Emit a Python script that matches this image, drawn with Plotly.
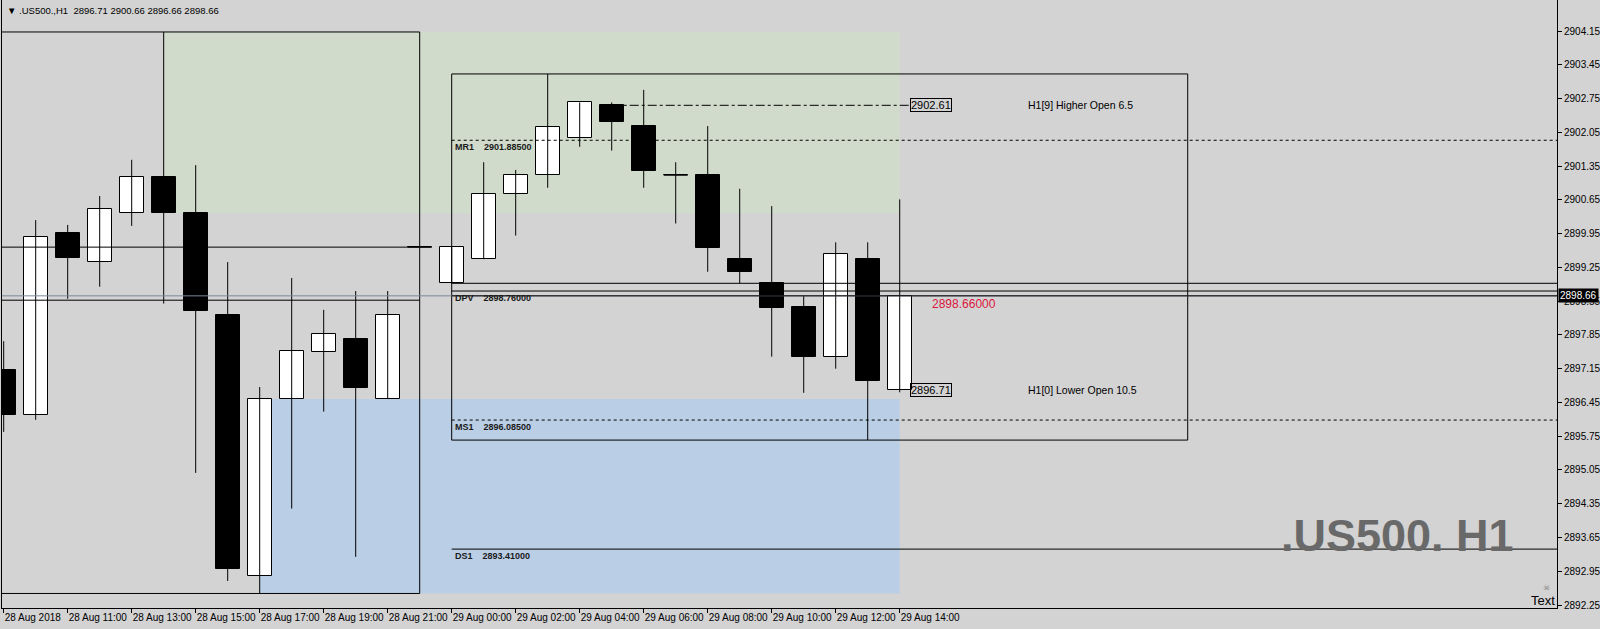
import plotly.graph_objects as go

# ---------------- data ----------------
bar_index = list(range(29))
opens  = [2897.12, 2896.20, 2899.96, 2899.36, 2900.37, 2901.12, 2900.38, 2898.26, 2892.85, 2896.52,
          2897.50, 2897.77, 2896.52, 2899.67, 2898.92, 2899.42, 2900.77, 2901.16, 2901.93, 2902.61,
          2902.18, 2901.16, 2901.16, 2899.42, 2898.92, 2898.43, 2897.40, 2899.42, 2896.71]
highs  = [2897.72, 2900.23, 2900.13, 2900.73, 2901.48, 2904.13, 2901.37, 2899.36, 2896.77, 2899.03,
          2898.37, 2898.76, 2898.76, 2899.67, 2899.67, 2901.43, 2901.27, 2903.26, 2902.67, 2902.67,
          2902.93, 2901.43, 2902.18, 2900.88, 2900.52, 2898.66, 2899.77, 2899.77, 2900.66]
lows   = [2895.84, 2896.09, 2898.60, 2898.85, 2900.11, 2898.50, 2894.99, 2892.75, 2892.49, 2894.25,
          2896.26, 2893.25, 2896.52, 2899.67, 2898.92, 2899.42, 2899.91, 2900.90, 2901.75, 2901.67,
          2900.90, 2900.16, 2899.16, 2898.92, 2897.40, 2896.65, 2897.15, 2895.67, 2896.66]
closes = [2896.20, 2899.87, 2899.45, 2900.47, 2901.12, 2900.37, 2898.35, 2893.00, 2896.52, 2897.51,
          2897.87, 2896.75, 2898.26, 2899.67, 2899.67, 2900.77, 2901.16, 2902.17, 2902.67, 2902.27,
          2901.25, 2901.16, 2899.66, 2899.16, 2898.41, 2897.40, 2899.52, 2896.90, 2898.66]

tick_bars   = [0, 2, 4, 6, 8, 10, 12, 14, 16, 18, 20, 22, 24, 26, 28]
tick_labels = ["28 Aug 2018", "28 Aug 11:00", "28 Aug 13:00", "28 Aug 15:00", "28 Aug 17:00",
               "28 Aug 19:00", "28 Aug 21:00", "29 Aug 00:00", "29 Aug 02:00", "29 Aug 04:00",
               "29 Aug 06:00", "29 Aug 08:00", "29 Aug 10:00", "29 Aug 12:00", "29 Aug 14:00"]

price_ticks = [2892.25, 2892.95, 2893.65, 2894.35, 2895.05, 2895.75, 2896.45, 2897.15, 2897.85,
               2898.55, 2899.25, 2899.95, 2900.65, 2901.35, 2902.05, 2902.75, 2903.45, 2904.15]

pivot_names  = ["MR1", "DPV", "MS1", "DS1"]
pivot_values = [2901.885, 2898.76, 2896.085, 2893.41]
pivot_dashes = ["3px,3px", "solid", "3px,3px", "solid"]

bid_price = 2898.66
day_open = 2898.92
prev_lines = [2899.67, 2898.57]

prev_day_high, prev_day_low = 2904.13, 2892.49
range_high, range_low = 2903.26, 2895.67
green_zone = (5, 28, 2900.37, 2904.13)
blue_zone = (8, 28, 2892.49, 2896.52)

higher_open_bar, lower_open_bar = 19, 28
higher_open_text = "H1[9] Higher Open 6.5"
lower_open_text = "H1[0] Lower Open 10.5"

# ---------------- figure ----------------
BG = "#D3D3D3"
FONT = "Liberation Sans, Arial, sans-serif"
fig = go.Figure()

# wicks
wx, wy = [], []
for i, h, l in zip(bar_index, highs, lows):
    wx += [i, i, None]
    wy += [l, h, None]
# doji bodies as horizontal strokes
for i, o, c in zip(bar_index, opens, closes):
    if abs(o - c) < 0.005:
        wx += [i - 0.375, i + 0.375, None]
        wy += [o, o, None]
fig.add_trace(go.Scatter(x=wx, y=wy, mode="lines", line=dict(color="black", width=1),
                         hoverinfo="skip", showlegend=False))

# bodies
base = [min(o, c) for o, c in zip(opens, closes)]
height = [abs(c - o) for o, c in zip(opens, closes)]
colors = ["white" if c > o else "black" for o, c in zip(opens, closes)]
fig.add_trace(go.Bar(x=bar_index, y=height, base=base, width=0.75,
                     marker=dict(color=colors, line=dict(color="black", width=1)),
                     hoverinfo="skip", showlegend=False))

shapes = []
# zones
gx0, gx1, gy0, gy1 = green_zone
shapes.append(dict(type="rect", xref="x", yref="y", x0=gx0, x1=gx1, y0=gy0, y1=gy1,
                   fillcolor="#D0DBCB", line=dict(width=0), layer="below"))
bx0, bx1, by0, by1 = blue_zone
shapes.append(dict(type="rect", xref="x", yref="y", x0=bx0, x1=bx1, y0=by0, y1=by1,
                   fillcolor="#BACEE6", line=dict(width=0), layer="below"))

# previous day range box
shapes.append(dict(type="rect", xref="x", yref="y", x0=-2, x1=13, y0=prev_day_low, y1=prev_day_high,
                   line=dict(color="black", width=1), fillcolor="rgba(0,0,0,0)", layer="above"))
# current range box
shapes.append(dict(type="rect", xref="x", yref="y", x0=14, x1=37, y0=range_low, y1=range_high,
                   line=dict(color="black", width=1), fillcolor="rgba(0,0,0,0)", layer="above"))

# bid line
shapes.append(dict(type="line", xref="x", yref="y", x0=-2, x1=50, y0=bid_price, y1=bid_price,
                   line=dict(color="#778899", width=1), layer="above"))
# previous-day lines
shapes.append(dict(type="line", xref="x", yref="y", x0=-2, x1=13.37, y0=prev_lines[0], y1=prev_lines[0],
                   line=dict(color="black", width=1), layer="above"))
shapes.append(dict(type="line", xref="x", yref="y", x0=-2, x1=13, y0=prev_lines[1], y1=prev_lines[1],
                   line=dict(color="black", width=1), layer="above"))
# day open and close lines
for v in [day_open, bid_price]:
    shapes.append(dict(type="line", xref="x", yref="y", x0=14, x1=50, y0=v, y1=v,
                       line=dict(color="black", width=1), layer="above"))
# pivots
for name, v, d in zip(pivot_names, pivot_values, pivot_dashes):
    shapes.append(dict(type="line", xref="x", yref="y", x0=14, x1=50, y0=v, y1=v,
                       line=dict(color="black", width=1, dash=d), layer="above"))

# higher open dash-dot line
ho = opens[higher_open_bar]
shapes.append(dict(type="line", xref="x", yref="y", x0=higher_open_bar, x1=28.33, y0=ho, y1=ho,
                   line=dict(color="black", width=1, dash="dashdot"), layer="above"))

annotations = []
NB = "\u00a0"
for name, v in zip(pivot_names, pivot_values):
    annotations.append(dict(x=14, y=v, xref="x", yref="y", xanchor="left", yanchor="top",
                            xshift=1, yshift=0, showarrow=False,
                            text=f"<b>{name}{NB*4}{v:.5f}</b>",
                            font=dict(family=FONT, size=9, color="#1a1a1a")))

lo = opens[lower_open_bar]
for v in [ho, lo]:
    annotations.append(dict(x=28.33, y=v, xref="x", yref="y", xanchor="left", yanchor="middle",
                            showarrow=False, text=f"{v:.2f}", bordercolor="black", borderwidth=1,
                            borderpad=0, font=dict(family=FONT, size=11, color="black")))
annotations.append(dict(x=32, y=ho, xref="x", yref="y", xanchor="left", yanchor="middle",
                        xshift=-2, showarrow=False, text=higher_open_text,
                        font=dict(family=FONT, size=10.5, color="black")))
annotations.append(dict(x=32, y=lo, xref="x", yref="y", xanchor="left", yanchor="middle",
                        xshift=-2, showarrow=False, text=lower_open_text,
                        font=dict(family=FONT, size=10.5, color="black")))
annotations.append(dict(x=29, y=bid_price, xref="x", yref="y", xanchor="left", yanchor="top",
                        xshift=-2, yshift=1, showarrow=False, text=f"{closes[-1]:.5f}",
                        font=dict(family=FONT, size=12, color="#DC143C")))

# bid label on price axis
annotations.append(dict(x=1, y=bid_price, xref="paper", yref="y", xanchor="left", yanchor="middle",
                        xshift=1, showarrow=False, text=f"{bid_price:.2f}", bgcolor="black",
                        borderpad=1, font=dict(family=FONT, size=10, color="white")))

# header
annotations.append(dict(x=0, y=1, xref="paper", yref="paper", xanchor="left", yanchor="top",
                        xshift=3, yshift=-3, showarrow=False,
                        text=f"▼ .US500.,H1{NB*2}{opens[-1]:.2f} {highs[-1]:.2f} {lows[-1]:.2f} {closes[-1]:.2f}",
                        font=dict(family=FONT, size=9.5, color="black")))

# watermark
annotations.append(dict(x=0.8977, y=0.12, xref="paper", yref="paper", xanchor="center", yanchor="middle",
                        showarrow=False, text="<b>.US500. H1</b>",
                        font=dict(family=FONT, size=45, color="#696969")))
# Text label
annotations.append(dict(x=1, y=0.013, xref="paper", yref="paper", xanchor="right", yanchor="middle",
                        showarrow=False, text="Text", font=dict(family=FONT, size=13, color="black")))
annotations.append(dict(x=1, y=0.033, xref="paper", yref="paper", xanchor="right", yanchor="middle",
                        xshift=-5, showarrow=False, text="☠", font=dict(family="DejaVu Sans", size=8, color="#808080")))

fig.update_layout(
    width=1600, height=629,
    margin=dict(l=2, r=43, t=0, b=21, autoexpand=False),
    paper_bgcolor=BG, plot_bgcolor=BG,
    shapes=shapes, annotations=annotations,
    barmode="overlay", bargap=0,
    showlegend=False,
    xaxis=dict(range=[-0.053, 48.54], tickmode="array", tickvals=tick_bars, ticktext=tick_labels,
               ticks="outside", ticklen=4, tickcolor="black", showgrid=False, zeroline=False,
               showline=True, linecolor="black", linewidth=1, ticklabelposition="outside right",
               tickangle=0, automargin=False,
               tickfont=dict(family=FONT, size=10, color="black"), fixedrange=True),
    yaxis=dict(range=[2892.189, 2904.793], side="right", tickmode="array", tickvals=price_ticks,
               ticktext=[f"{v:.2f}" for v in price_ticks], automargin=False,
               ticks="outside", ticklen=4, tickcolor="black", showgrid=False, zeroline=False,
               showline=True, mirror=True, linecolor="black", linewidth=1,
               tickfont=dict(family=FONT, size=10, color="black"), fixedrange=True),
)

fig.write_html("out.html", config={"displayModeBar": False},
               post_script="document.body.style.margin='0px';document.body.style.overflow='hidden';")
